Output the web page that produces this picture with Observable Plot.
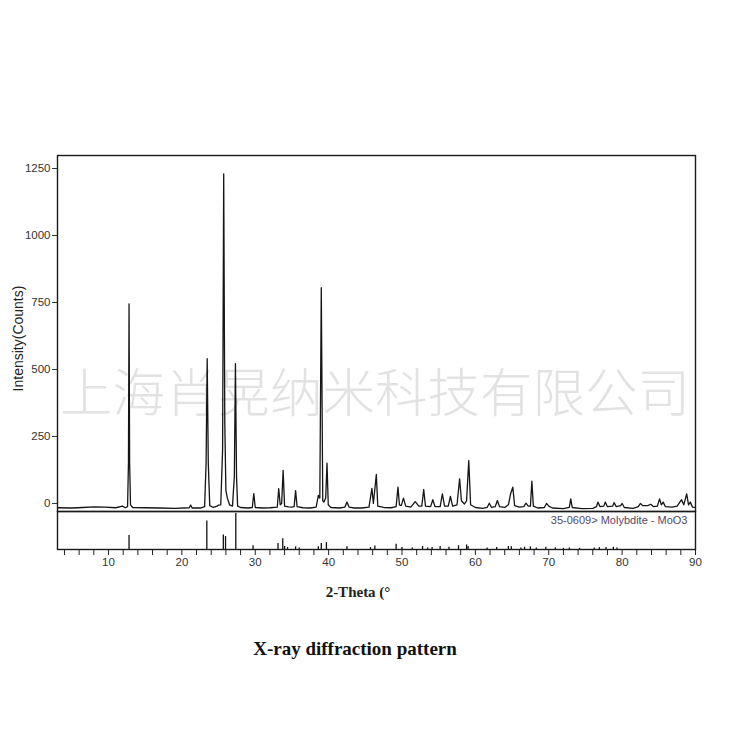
<!DOCTYPE html>
<html>
<head>
<meta charset="utf-8">
<script src="https://cdn.jsdelivr.net/npm/d3@7"></script>
<script src="https://cdn.jsdelivr.net/npm/@observablehq/plot@0.6"></script>
<style>
  html, body { margin: 0; padding: 0; background: #fff; }
  #wrap { position: relative; width: 750px; height: 750px; overflow: hidden; font-family: "Liberation Sans", Arial, sans-serif; }
  #wrap svg { position: absolute; left: 0; top: 0; background: transparent; }
  .abs { position: absolute; white-space: nowrap; }
</style>
</head>
<body>
<div id="wrap">
  <div class="abs" id="wm" style="left:60px; top:351px; font-family:'Noto Sans CJK SC', sans-serif; font-size:52.5px; color:#e2e2e2; font-weight:300;">上海肖晃纳米科技有限公司</div>
  <div class="abs" id="xlab" style="left:0; width:716px; text-align:center; top:584px; font-family:'Liberation Serif', serif; font-weight:bold; font-size:15px; color:#222;">2-Theta (°</div>
  <div class="abs" id="cap" style="left:0; width:710px; text-align:center; top:638px; font-family:'Liberation Serif', serif; font-weight:bold; font-size:19px; color:#111;">X-ray diffraction pattern</div>
</div>
<script>
// Measured diffraction profile (2θ in degrees, intensity in counts)
const twoTheta = [
  3.0, 5.0, 6.5, 8.0, 9.5, 11.0, 11.9, 12.3, 12.6, 12.72, 12.8, 12.88, 13.0, 13.3,
  15.0, 17.0, 19.0, 21.0, 21.2, 21.4, 22.5, 23.1, 23.3, 23.45, 23.6, 23.8, 24.3, 24.8,
  25.0, 25.3, 25.55, 25.7, 25.85, 26.0, 26.2, 26.5, 26.9, 27.15, 27.3, 27.45, 27.6, 28.0,
  29.0, 29.6, 29.8, 30.0, 31.0, 32.0, 33.0, 33.2, 33.4, 33.6, 33.8, 34.0, 34.5, 35.0,
  35.3, 35.5, 35.7, 36.5, 37.5, 38.3, 38.6, 38.8, 39.0, 39.2, 39.35, 39.6, 39.78, 39.95,
  40.3, 41.5, 42.2, 42.5, 42.8, 43.5, 44.5, 45.5, 45.9, 46.1, 46.5, 46.7, 47.5, 48.5,
  49.2, 49.45, 49.65, 49.9, 50.2, 50.5, 51.2, 51.8, 52.3, 52.7, 52.96, 53.2, 53.9, 54.2,
  54.5, 55.2, 55.5, 55.8, 56.3, 56.6, 56.9, 57.5, 57.85, 58.1, 58.5, 58.8, 59.1, 59.35,
  60.0, 61.0, 61.6, 61.9, 62.2, 62.7, 63.0, 63.3, 64.0, 64.5, 64.8, 65.1, 65.35, 66.0,
  66.6, 66.9, 67.2, 67.5, 67.7, 67.9, 68.5, 69.4, 69.7, 70.0, 70.5, 72.0, 72.8, 73.0,
  73.2, 74.5, 76.0, 76.5, 76.7, 77.0, 77.5, 77.7, 78.0, 78.7, 78.9, 79.2, 79.8, 80.0,
  80.3, 81.5, 82.2, 82.5, 82.8, 83.5, 83.9, 84.3, 84.8, 85.1, 85.35, 85.6, 85.9, 86.8,
  87.5, 88.1, 88.4, 88.8, 89.05, 89.3, 89.6, 90.0
];
const counts = [
  -16, -17, -15, -13, -14, -16, -10, -16, -12, 150, 745, 150, -5, -15,
  -16, -17, -18, -16, -6, -17, -17, -12, 150, 540, 150, -8, -15, -10,
  -6, -5, 200, 1230, 300, 48, 20, -5, -10, 100, 522, 100, -10, -15,
  -17, -15, 37, -15, -17, -16, -14, 55, -5, 0, 123, -10, -13, -14,
  -12, 48, -12, -16, -17, -14, 30, 20, 805, 10, 5, 20, 150, -5,
  -15, -17, -14, 5, -14, -17, -17, -14, 56, 0, 108, -10, -15, -16,
  -12, 61, -5, -8, 20, -10, -14, 7, -10, -10, 52, -10, -12, 14,
  -12, -12, 36, -10, -10, 26, -10, -5, 92, 10, -2, 10, 160, -5,
  -15, -18, -15, 1, -15, -12, 11, -12, -15, -5, 36, 61, -8, -14,
  -12, 1, -10, -10, 83, -10, -17, -15, 0, -10, -17, -19, -15, 17,
  -15, -19, -18, -12, 5, -12, -10, 5, -12, -10, 3, -12, -8, 0,
  -15, -18, -12, 0, -8, -8, -3, -12, -10, 17, -5, 5, -12, -14,
  -10, 14, -5, 36, -5, 5, -14, -15
];
// Reference card 35-0609 Molybdite - MoO3 (stick positions, relative intensity %)
const stickTheta = [12.8, 23.4, 25.65, 25.95, 27.35, 29.7, 33.1, 33.75, 34.0, 34.4, 35.5, 36.0, 38.6, 39.0, 39.7, 42.5,
  45.7, 46.3, 49.2, 50.0, 51.4, 52.8, 53.5, 54.1, 55.2, 56.4, 57.7, 58.8, 59.0, 61.6, 62.9, 64.5, 64.9,
  66.2, 66.7, 67.5, 68.3, 69.6, 70.9, 72.0, 72.8, 74.2, 76.2, 76.9, 77.8, 78.8, 79.3];
const stickRel = [37, 75, 38, 34, 95, 10, 16, 28, 8, 5, 7, 4, 7, 16, 18, 7,
  5, 9, 14, 5, 4, 8, 4, 5, 8, 6, 10, 12, 8, 4, 5, 8, 7,
  4, 6, 7, 4, 6, 4, 3, 4, 3, 4, 5, 5, 6, 4];
const cardLabel = "35-0609> Molybdite - MoO3";
const yTicks = [0, 250, 500, 750, 1000, 1250];
const yTickLabels = ["0", "250", "500", "750", "1000", "1250"];
const xTicks = [4, 6, 8, 10, 12, 14, 16, 18, 20, 22, 24, 26, 28, 30, 32, 34, 36, 38, 40, 42, 44, 46, 48, 50,
  52, 54, 56, 58, 60, 62, 64, 66, 68, 70, 72, 74, 76, 78, 80, 82, 84, 86, 88, 90];
const xLabelTicks = [10, 20, 30, 40, 50, 60, 70, 80, 90];
const xLabelText = ["10", "20", "30", "40", "50", "60", "70", "80", "90"];
const yTitle = "Intensity(Counts)";

const profile = twoTheta.map((t, i) => ({t, c: counts[i]}));
const sticks = stickTheta.map((t, i) => ({t, r: stickRel[i]}));

const xDomain = [3.05, 90];
const frameColor = "#1a1a1a";
const textColor = "#333";

const upper = Plot.plot({
  width: 750, height: 750,
  marginLeft: 57, marginRight: 55, marginTop: 155, marginBottom: 239,
  style: {background: "transparent", fontFamily: "'Liberation Sans', Arial, sans-serif", color: textColor},
  x: {domain: xDomain, axis: null},
  y: {domain: [-30, 1298.5]},
  marks: [
    Plot.axisY({ticks: yTicks, tickFormat: d => yTickLabels[yTicks.indexOf(d)], tickSize: 5, tickPadding: 2,
      fontSize: 11.5, label: null, stroke: "#333"}),
    Plot.text([yTitle], {frameAnchor: "left", textAnchor: "middle", text: d => d, rotate: -90, dx: -39, dy: 5, fontSize: 14, fill: "#222"}),
    Plot.line(profile, {x: "t", y: "c", stroke: "#151515", strokeWidth: 1.3, clip: true}),
    Plot.frame({stroke: frameColor, strokeWidth: 1.4})
  ]
});

const lower = Plot.plot({
  width: 750, height: 750,
  marginLeft: 57, marginRight: 55, marginTop: 511, marginBottom: 201,
  style: {background: "transparent", fontFamily: "'Liberation Sans', Arial, sans-serif", color: textColor},
  x: {domain: xDomain},
  y: {domain: [0, 100], axis: null},
  marks: [
    Plot.ruleX(sticks, {x: "t", y1: 0, y2: "r", stroke: "#111", strokeWidth: 1.3}),
    Plot.axisX({ticks: xTicks, tickFormat: () => "", tickSize: 6, stroke: "#222", label: null}),
    Plot.axisX({ticks: xLabelTicks, tickFormat: d => xLabelText[xLabelTicks.indexOf(d)], tickSize: 0, tickPadding: 8,
      fontSize: 11.5, label: null}),
    Plot.text([cardLabel], {frameAnchor: "top-right", text: d => d, dx: -8, dy: 5, fontSize: 11, fill: "#55486a"}),
    Plot.frame({stroke: frameColor, strokeWidth: 1.4})
  ]
});

const wrap = document.getElementById("wrap");
wrap.appendChild(upper);
wrap.appendChild(lower);
</script>
</body>
</html>
